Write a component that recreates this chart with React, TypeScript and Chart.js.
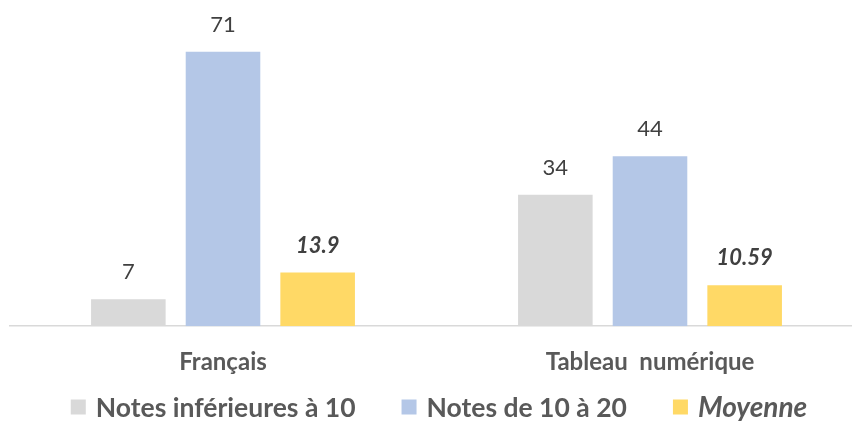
import React, { useEffect, useRef } from "react";
import { Chart, registerables } from "chart.js";

Chart.register(...registerables);

const categories = ["Français", "Tableau  numérique"];
const seriesNames = ["Notes inférieures à 10", "Notes de 10 à 20", "Moyenne"];
const notesInf10 = [7, 34];
const notes10a20 = [71, 44];
const moyenne = [13.9, 10.59];
const moyenneLabels = ["13.9", "10.59"];
const colors = ["#d9d9d9", "#b4c7e7", "#ffd966"];

const FONT = "Lato, 'Noto Sans', sans-serif";

const valueLabels = {
  id: "valueLabels",
  afterDatasetsDraw(chart: any) {
    const ctx = chart.ctx;
    ctx.save();
    ctx.textAlign = "center";
    ctx.textBaseline = "middle";
    chart.data.datasets.forEach((ds: any, di: number) => {
      const meta = chart.getDatasetMeta(di);
      meta.data.forEach((el: any, i: number) => {
        const isAvg = di === 2;
        ctx.font = (isAvg ? "italic bold " : "") + "22px " + FONT;
        ctx.fillStyle = "#404040";
        const txt = isAvg ? moyenneLabels[i] : String(ds.data[i]);
        ctx.fillText(txt, el.x, el.y - 27);
      });
    });
    ctx.restore();
  },
};

const customLegend = {
  id: "customLegend",
  afterDraw(chart: any) {
    const ctx = chart.ctx;
    ctx.save();
    const box = 15;
    const gapBoxText = 10;
    const gapItems = 46;
    const fonts = seriesNames.map((_, i) => (i === 2 ? "italic bold 28px " : "bold 26.5px ") + FONT);
    const widths = seriesNames.map((n, i) => {
      ctx.font = fonts[i];
      return ctx.measureText(n).width;
    });
    const total = widths.reduce((a, w) => a + box + gapBoxText + w, 0) + gapItems * (seriesNames.length - 1);
    let x = 439 - total / 2;
    const yMid = 407;
    ctx.textBaseline = "middle";
    ctx.textAlign = "left";
    seriesNames.forEach((n, i) => {
      ctx.fillStyle = colors[i];
      ctx.fillRect(x, yMid - box / 2, box, box);
      x += box + gapBoxText;
      ctx.font = fonts[i];
      ctx.fillStyle = "#595959";
      ctx.fillText(n, x, yMid + 1);
      x += widths[i] + gapItems;
    });
    ctx.restore();
  },
};

export default function App() {
  const ref = useRef<HTMLCanvasElement>(null);
  useEffect(() => {
    if (!ref.current) return;
    const chart = new Chart(ref.current, {
      type: "bar",
      data: {
        labels: categories,
        datasets: [
          { label: seriesNames[0], data: notesInf10, backgroundColor: colors[0] },
          { label: seriesNames[1], data: notes10a20, backgroundColor: colors[1] },
          { label: seriesNames[2], data: moyenne, backgroundColor: colors[2] },
        ],
      },
      options: {
        responsive: false,
        animation: false,
        layout: { padding: { left: 9.5, right: 2.5, top: 17, bottom: 30 } },
        datasets: {
          bar: { categoryPercentage: 0.665, barPercentage: 0.788 },
        },
        plugins: {
          legend: { display: false },
          tooltip: { enabled: false },
        },
        scales: {
          x: {
            grid: { display: false },
            border: { display: true, color: "#d9d9d9", width: 1.5 },
            ticks: {
              color: "#595959",
              font: { family: FONT, size: 24, weight: "bold" },
              padding: 14,
            },
          },
          y: {
            display: false,
            min: 0,
            max: 80,
          },
        },
      },
      plugins: [valueLabels, customLegend],
    });
    return () => chart.destroy();
  }, []);
  return (
    <div style={{ position: "absolute", left: 0, top: 0, width: 852, height: 421, overflow: "hidden", background: "#fff" }}>
      <canvas ref={ref} width={866} height={421} style={{ display: "block" }} />
    </div>
  );
}
